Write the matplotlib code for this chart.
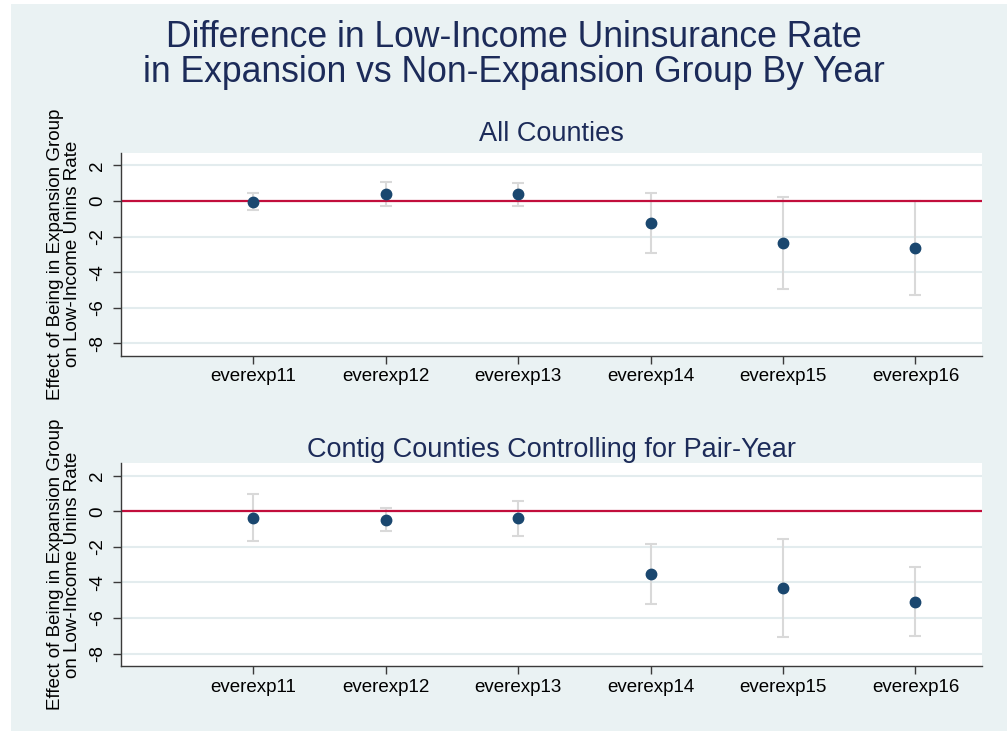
import matplotlib
matplotlib.use("Agg")
import matplotlib.pyplot as plt
import numpy as np
from matplotlib.patches import Rectangle

plt.rcParams['font.family'] = ['Liberation Sans', 'DejaVu Sans']

# Coefficients and 95% confidence bounds by year indicator
terms = ['everexp11', 'everexp12', 'everexp13', 'everexp14', 'everexp15', 'everexp16']

all_coef = [-0.05, 0.41, 0.41, -1.24, -2.38, -2.64]
all_lo = [-0.52, -0.28, -0.28, -2.94, -4.94, -5.28]
all_hi = [0.47, 1.08, 1.03, 0.47, 0.21, 0.02]

contig_coef = [-0.38, -0.47, -0.37, -3.54, -4.33, -5.12]
contig_lo = [-1.67, -1.10, -1.39, -5.22, -7.08, -7.02]
contig_hi = [0.96, 0.19, 0.60, -1.85, -1.56, -3.16]

yticks = [-8, -6, -4, -2, 0, 2]

W, H = 1007, 731
BG = '#EAF2F3'
NAVY_TXT = '#1C2B59'
MARKER = '#1A476F'
CI_COL = '#D9D9D9'
ZERO_COL = '#C20E3C'
GRID_COL = '#E3ECEE'
AX_COL = '#3A3A3A'

fig = plt.figure(figsize=(W / 100, H / 100), dpi=100, facecolor='white')
fig.patches.append(Rectangle((11 / W, 0), 1 - 11 / W, 1 - 4 / H,
                             transform=fig.transFigure, facecolor=BG,
                             edgecolor='none', zorder=-10))

fig.text(514 / W, 1 - 47 / H, 'Difference in Low-Income Uninsurance Rate',
         ha='center', va='baseline', fontsize=25.6, color=NAVY_TXT)
fig.text(514 / W, 1 - 82 / H, 'in Expansion vs Non-Expansion Group By Year',
         ha='center', va='baseline', fontsize=25.6, color=NAVY_TXT)

panels = [
    ('All Counties', all_coef, all_lo, all_hi, 153.0, 141.0),
    ('Contig Counties Controlling for Pair-Year', contig_coef, contig_lo, contig_hi, 463.3, 456.7),
]

ax_left, ax_right = 120.7, 981.7
ax_h = 202.7
x = np.arange(1, len(terms) + 1)

for title, coef, lo, hi, top_px, base_px in panels:
    ax = fig.add_axes([ax_left / W, 1 - (top_px + ax_h) / H,
                       (ax_right - ax_left) / W, ax_h / H])
    ax.set_facecolor('white')
    coef = np.array(coef)
    lo = np.array(lo)
    hi = np.array(hi)
    ax.errorbar(x, coef, yerr=[coef - lo, hi - coef], fmt='none',
                ecolor=CI_COL, elinewidth=1.5, capsize=4.5, capthick=1.5,
                zorder=2)
    ax.axhline(0, color=ZERO_COL, lw=1.6, zorder=2.5)
    ax.plot(x, coef, 'o', color=MARKER, ms=7.5, zorder=3)

    ax.set_xlim(0, 6.5)
    ax.set_ylim(-8.7, 2.7)
    ax.set_xticks(x)
    ax.set_xticklabels(terms)
    ax.set_yticks(yticks)
    ax.set_yticklabels([str(v) for v in yticks], rotation=90, va='center')
    ax.grid(axis='y', color=GRID_COL, lw=1.5, zorder=0)
    ax.set_axisbelow(True)
    for s in ('top', 'right'):
        ax.spines[s].set_visible(False)
    for s in ('left', 'bottom'):
        ax.spines[s].set_color(AX_COL)
        ax.spines[s].set_linewidth(1.0)
    ax.tick_params(axis='both', length=5.5, width=1.0, color=AX_COL,
                   labelsize=13.5, labelcolor='black')
    ax.tick_params(axis='x', pad=3.5)
    ax.tick_params(axis='y', pad=5)

    fig.text((ax_left + ax_right) / 2 / W, 1 - base_px / H, title,
             ha='center', va='baseline', fontsize=19.5, color=NAVY_TXT)
    fig.text(64 / W, 1 - (top_px + ax_h / 2) / H,
             'Effect of Being in Expansion Group\non Low-Income Unins Rate',
             rotation=90, ha='center', va='center', multialignment='center',
             fontsize=13.5, color='black', linespacing=1.0)

fig.savefig('out.png', dpi=100, facecolor='white')
